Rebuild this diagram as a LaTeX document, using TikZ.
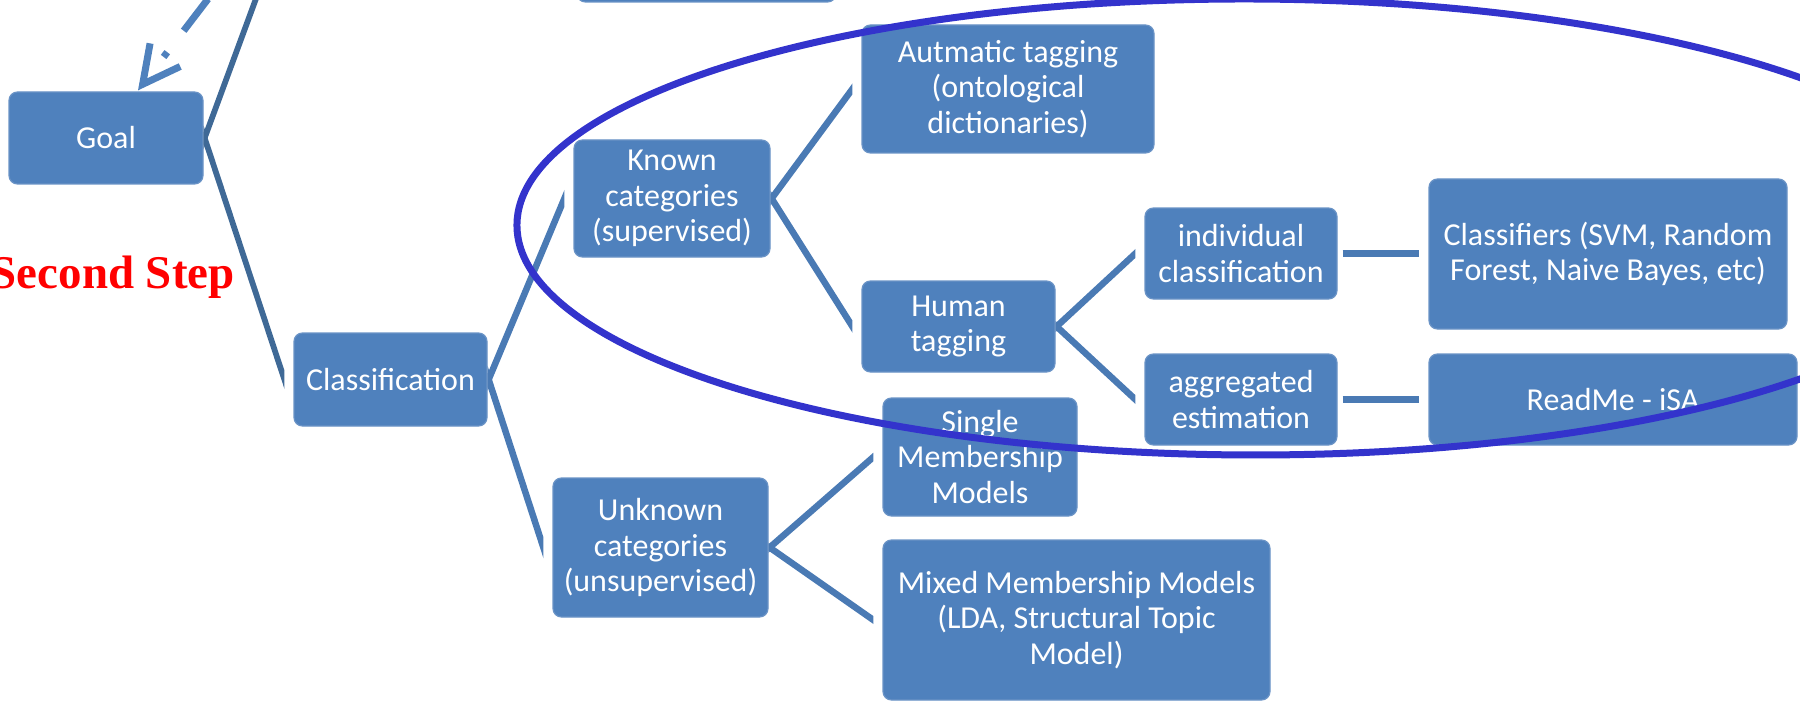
\documentclass[tikz,border=0pt]{standalone}
\usepackage{fontspec}
\setmainfont{Carlito}
\newfontfamily\serifbold{Liberation Serif}
\usetikzlibrary{calc,arrows.meta}
\definecolor{boxblue}{HTML}{4F81BD}
\definecolor{boxedge}{HTML}{6A93C6}
\definecolor{linkblue}{HTML}{4A7AB4}
\definecolor{goallink}{HTML}{3F6996}
\definecolor{ringblue}{HTML}{3333CC}
\newcommand\mybranch[3][link]{%
  \coordinate (bp) at ([xshift=0.2mm]#2.east);
  \coordinate (bq) at (#3);
  \begin{scope}
    \clip (#2.east |- clipT) rectangle (bq |- clipB);
    \draw[#1] ($(bp)!-0.3!(bq)$) -- ($(bp)!1.3!(bq)$);
  \end{scope}}
\begin{document}
\begin{tikzpicture}[x=0.2mm,y=-0.2mm,
  box/.style={rectangle, rounded corners=1.7mm, fill=boxblue, draw=boxedge,
    line width=0.25mm, text=white, align=center, inner sep=0pt,
    font=\fontsize{18.2pt}{20.2pt}\selectfont},
  bx/.style 2 args={minimum width=#1*0.2mm, minimum height=#2*0.2mm},
  link/.style={draw=linkblue, line width=1.3mm, line cap=butt},
  goallink/.style={draw=goallink, line width=1.15mm, line cap=butt},
  dasharrow/.style={draw=boxblue, line width=1.4mm, line cap=butt,
    dash pattern=on 8mm off 5.4mm on 1.2mm off 14mm,
    -{Straight Barb[length=7.4mm,width=7.6mm]}},
  ring/.style={draw=ringblue, line width=1.4mm},
  steplabel/.style={text=red, inner sep=0pt, font=\serifbold\bfseries\fontsize{26.7pt}{30pt}\selectfont}]
\useasboundingbox (0,0) rectangle (1800,701);
\coordinate (clipT) at (0,-300);
\coordinate (clipB) at (0,900);

% boxes
\node[box, bx={259}{80}] (topbox) at (706.5,-38) {};
\node[box, bx={194}{92}] (goal) at (106,138) {Goal};
\node[box, bx={193}{93}] (classif) at (390.5,379.5) {Classification};
\node[box, bx={196}{117}] (known) at (672,198.5) {Known\\categories\\(supervised)};
\node[box, bx={215}{139}] (unknown) at (660.5,547.5) {Unknown\\categories\\(unsupervised)};
\node[box, bx={292}{128}] (auto) at (1008,89) {Autmatic tagging\\(ontological\\dictionaries)};
\node[box, bx={193}{91}] (human) at (958.5,326.5) {Human\\tagging};
\node[box, bx={194}{118}] (single) at (980,457) {Single\\Membership\\Models};
\node[box, bx={387}{160}] (mixed) at (1076.5,620) {Mixed Membership Models\\(LDA, Structural Topic\\Model)};
\node[box, bx={192}{91}] (indiv) at (1241,253.5) {individual\\classification};
\node[box, bx={192}{91}] (aggr) at (1241,399.5) {aggregated\\estimation};
\node[box, bx={358}{150}] (clf) at (1608,254) {Classifiers (SVM, Random\\Forest, Naive Bayes, etc)};
\node[box, bx={368}{91}] (readme) at (1613,399.5) {ReadMe - iSA};

\node[steplabel, anchor=base east] (step) at (235,288) {Second Step};

% connectors
\coordinate (upsib) at (285,-80);
\mybranch[goallink]{goal}{upsib}
\mybranch[goallink]{goal}{[xshift=-1.8mm]classif.west}
\mybranch{classif}{[xshift=-1.8mm]known.west}
\mybranch{classif}{[xshift=-1.8mm]unknown.west}
\mybranch{known}{[xshift=-1.8mm]auto.west}
\mybranch{known}{[xshift=-1.8mm]human.west}
\mybranch{human}{[xshift=-1.8mm]indiv.west}
\mybranch{human}{[xshift=-1.8mm]aggr.west}
\mybranch{unknown}{[xshift=-1.8mm]single.west}
\mybranch{unknown}{[xshift=-1.8mm]mixed.west}
\draw[link] ([xshift=1mm]indiv.east) -- ([xshift=-1.8mm]indiv.east -| clf.west);
\draw[link] ([xshift=1mm]aggr.east) -- ([xshift=-1.8mm]aggr.east -| readme.west);

% dashed arrow
\coordinate (dstart) at (208,-1);
\coordinate (dtip) at ([xshift=6.4mm,yshift=0.2mm]goal.north);
\draw[dasharrow] (dstart) -- (dtip);

% ellipse
\coordinate (ringc) at (1250,227);
\draw[ring, rotate around={-0.15:(ringc)}] (ringc) ellipse [x radius=146.6mm, y radius=45.6mm];
\end{tikzpicture}
\end{document}
